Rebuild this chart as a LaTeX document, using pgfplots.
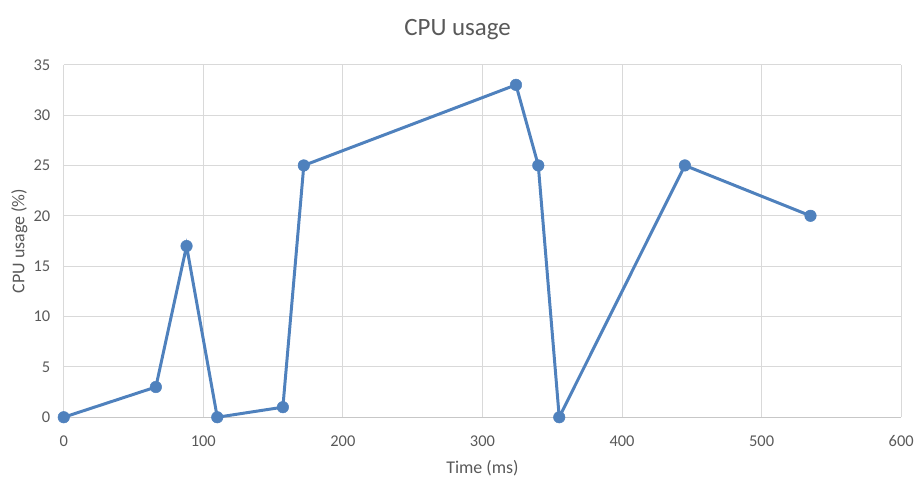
\documentclass[border=0pt]{standalone}
\usepackage{pgfplots}
\pgfplotsset{compat=1.18}
\usepackage{fontspec}
\setmainfont{Carlito}
\definecolor{lineblue}{HTML}{4F81BD}
\definecolor{gridgray}{HTML}{D9D9D9}
\definecolor{txtgray}{HTML}{595959}
\begin{document}
\begin{tikzpicture}
\begin{axis}[
  scale only axis,
  width=841bp, height=354bp,
  xmin=0, xmax=600, ymin=0, ymax=35,
  xtick={0,100,...,600}, ytick={0,5,...,35},
  grid=major,
  major grid style={gridgray, line width=1bp},
  axis line style={draw=none},
  tick style={draw=none},
  ticklabel style={font=\fontsize{16.5bp}{19bp}\selectfont, text=txtgray},
  /pgf/number format/assume math mode=true,
  xticklabel style={yshift=-15bp},
  yticklabel style={xshift=-10bp},
  title={CPU usage},
  title style={font=\fontsize{25bp}{28bp}\selectfont, text=txtgray, at={(0.5,1)}, anchor=center, yshift=29bp, xshift=-25bp},
  xlabel={Time (ms)},
  ylabel={CPU usage (\%)},
  label style={font=\fontsize{18bp}{21bp}\selectfont, text=txtgray},
  xlabel style={at={(0.5,0)}, anchor=north, yshift=-40bp},
  ylabel style={at={(0,0.5)}, anchor=south, yshift=33bp},
]
\draw[gridgray!80!gray, line width=1bp] (axis cs:0,0) -- (axis cs:600,0);
\addplot[lineblue, line width=3bp, mark=*, mark size=5.8bp, mark options={fill=lineblue, draw=lineblue, line width=0.5bp}] coordinates {
(0,0) (66,3) (88,17) (110,0) (157,1) (172,25) (324,33) (340,25) (355,0) (445,25) (535,20)
};
\end{axis}
\useasboundingbox (-64bp,-57bp) rectangle (853bp,419bp);
\end{tikzpicture}
\end{document}
